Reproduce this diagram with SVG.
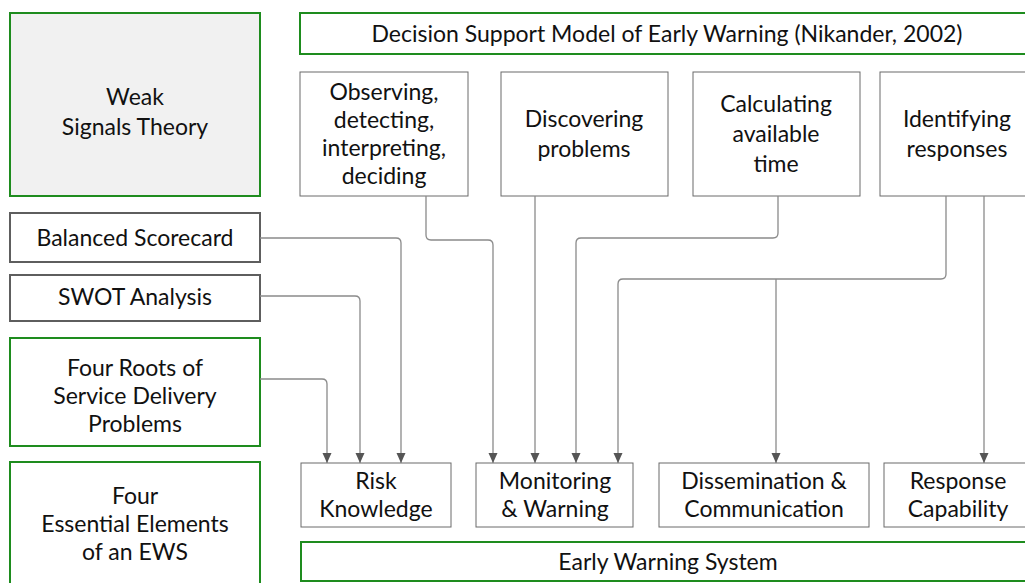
<svg xmlns="http://www.w3.org/2000/svg" width="1025" height="583" viewBox="0 0 1025 583">
<style>
text{font-family:"Lato","Open Sans","Liberation Sans",sans-serif;font-size:23px;fill:#111;text-anchor:middle}
.green{fill:#fff;stroke:#1e8c1e;stroke-width:2}
.gray2{fill:#fff;stroke:#5e5e5e;stroke-width:2}
.thin{fill:#fff;stroke:#6a6a6a;stroke-width:1}
.conn{fill:none;stroke:#8a8a8a;stroke-width:1.3}
</style>
<defs>
<marker id="arr" markerUnits="userSpaceOnUse" markerWidth="10" markerHeight="10" refX="10" refY="4.5" orient="auto">
<path d="M0,0 L10,4.5 L0,9 z" fill="#555"/>
</marker>
</defs>
<g id="weak-signals"><rect x="10" y="13" width="250" height="183" class="green" style="fill:#f1f1f1"/><text x="135" y="105">Weak</text><text x="135" y="135">Signals Theory</text></g>
<g id="balanced-scorecard"><rect x="10" y="213" width="250" height="49" class="gray2"/><text x="135" y="246">Balanced Scorecard</text></g>
<g id="swot"><rect x="10" y="275" width="250" height="46" class="gray2"/><text x="135" y="305">SWOT Analysis</text></g>
<g id="four-roots"><rect x="10" y="338" width="250" height="108" class="green"/><text x="135" y="376">Four Roots of</text><text x="135" y="404">Service Delivery</text><text x="135" y="432">Problems</text></g>
<g id="four-elements"><rect x="10" y="462" width="250" height="130" class="green"/><text x="135" y="504">Four</text><text x="135" y="532">Essential Elements</text><text x="135" y="560">of an EWS</text></g>
<g id="title"><rect x="300" y="13" width="740" height="41" class="green"/><text x="667" y="42">Decision Support Model of Early Warning (Nikander, 2002)</text></g>
<g id="observing"><rect x="300" y="72" width="168" height="124" class="thin"/><text x="384" y="100">Observing,</text><text x="384" y="128">detecting,</text><text x="384" y="156">interpreting,</text><text x="384" y="184">deciding</text></g>
<g id="discovering"><rect x="501" y="72" width="167" height="124" class="thin"/><text x="584" y="127">Discovering</text><text x="584" y="157">problems</text></g>
<g id="calculating"><rect x="693" y="72" width="167" height="124" class="thin"/><text x="776" y="112">Calculating</text><text x="776" y="142">available</text><text x="776" y="172">time</text></g>
<g id="identifying"><rect x="880" y="72" width="160" height="124" class="thin"/><text x="957" y="127">Identifying</text><text x="957" y="157">responses</text></g>
<g id="risk"><rect x="301" y="463" width="150" height="64" class="thin"/><text x="376" y="489">Risk</text><text x="376" y="517">Knowledge</text></g>
<g id="monitoring"><rect x="476" y="463" width="157" height="64" class="thin"/><text x="555" y="489">Monitoring</text><text x="555" y="517">&amp; Warning</text></g>
<g id="dissemination"><rect x="659" y="463" width="210" height="64" class="thin"/><text x="764" y="489">Dissemination &amp;</text><text x="764" y="517">Communication</text></g>
<g id="response"><rect x="884" y="463" width="156" height="64" class="thin"/><text x="958" y="489">Response</text><text x="958" y="517">Capability</text></g>
<g id="ews"><rect x="301" y="542" width="740" height="39" class="green"/><text x="668" y="570">Early Warning System</text></g>
<g id="connectors">
<path class="conn" marker-end="url(#arr)" d="M260,238 H396 Q401,238 401,243 V463"/>
<path class="conn" marker-end="url(#arr)" d="M260,296 H355 Q360,296 360,301 V463"/>
<path class="conn" marker-end="url(#arr)" d="M260,379 H322 Q327,379 327,384 V463"/>
<path class="conn" marker-end="url(#arr)" d="M426,196 V235 Q426,240 431,240 H488 Q493,240 493,245 V463"/>
<path class="conn" marker-end="url(#arr)" d="M535,196 V463"/>
<path class="conn" marker-end="url(#arr)" d="M778,196 V233 Q778,238 773,238 H581 Q576,238 576,243 V463"/>
<path class="conn" marker-end="url(#arr)" d="M946,196 V274 Q946,279 941,279 H623 Q618,279 618,284 V463"/>
<path class="conn" marker-end="url(#arr)" d="M776,279 V463"/>
<path class="conn" marker-end="url(#arr)" d="M984,196 V463"/>
</g>
</svg>
